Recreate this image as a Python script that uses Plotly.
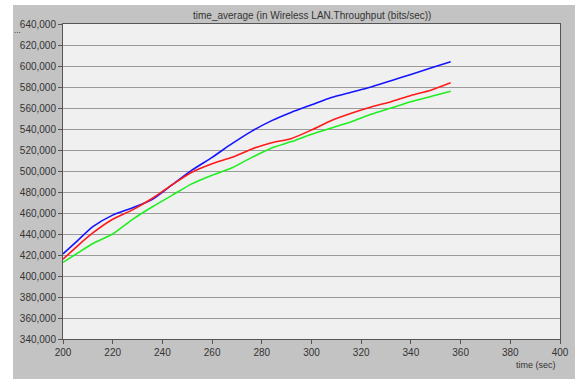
import plotly.graph_objects as go

time_sec = [200, 206, 212, 220, 228, 236, 244, 252, 260, 268, 276, 284, 292, 300, 308, 316, 324, 332, 340, 348, 356]
blue_series = [421000, 434000, 447000, 458000, 465000, 473000, 487000, 501000, 513000, 526000, 538000, 548000,
               556000, 563000, 570000, 575000, 580000, 586000, 592000, 598000, 604000]
red_series = [416000, 429000, 441000, 454000, 463000, 474000, 487000, 499000, 507000, 513000, 521000, 527000,
              531000, 539000, 548000, 555000, 561000, 566000, 572000, 577000, 584000]
green_series = [413000, 422000, 431000, 440000, 454000, 466000, 477000, 488000, 496000, 503000, 513000, 522000,
                528000, 535000, 541000, 547000, 554000, 560000, 566000, 571000, 576000]

x_ticks = list(range(200, 401, 20))
y_ticks = list(range(340000, 640001, 20000))

fig = go.Figure()
for ys, col in [(blue_series, "#1414ff"), (red_series, "#ff1a1a"), (green_series, "#1fee1f")]:
    fig.add_trace(go.Scatter(x=time_sec, y=ys, mode="lines", line=dict(color=col, width=1.6, shape="spline", smoothing=0.6),
                             showlegend=False, hoverinfo="skip"))

L, R, T, B = 63, 15, 24, 40
W, H = 575, 379
pw, ph = W - L - R, H - T - B

fig.add_shape(type="rect", xref="paper", yref="paper", layer="below",
              x0=(13 - L) / pw, x1=(W - L) / pw, y0=-(H - (H - B)) / ph - 0.01, y1=((H - B) - 5) / ph,
              fillcolor="#c3c3c3", line=dict(width=0))
fig.add_shape(type="rect", xref="paper", yref="paper", layer="below",
              x0=0, x1=1, y0=0, y1=1, fillcolor="#f0f0f0", line=dict(width=0))

axis_font = dict(family="Liberation Sans, Arial, sans-serif", size=10, color="#333333")
fig.update_xaxes(range=[200, 400], tickvals=x_ticks, ticktext=[str(v) for v in x_ticks],
                 showgrid=False, zeroline=False, showline=True, linecolor="#555555", linewidth=1,
                 mirror=True, ticks="outside", ticklen=4, tickcolor="#555555", tickfont=axis_font,
                 ticklabeloverflow="allow", automargin=False)
fig.update_yaxes(range=[340000, 640000], tickvals=y_ticks, ticktext=[f"{v:,}" for v in y_ticks],
                 showgrid=True, gridcolor="#9a9a9a", gridwidth=1, zeroline=False,
                 showline=True, linecolor="#555555", linewidth=1, mirror=True,
                 ticks="outside", ticklen=4, tickcolor="#555555", tickfont=axis_font, automargin=False)

fig.add_annotation(text="time_average (in Wireless LAN.Throughput (bits/sec))", xref="paper", yref="paper",
                   x=0.5, y=1.0, yshift=9, showarrow=False, xanchor="center", yanchor="middle",
                   font=dict(family="Liberation Sans, Arial, sans-serif", size=10, color="#333333"))
fig.add_annotation(text="time (sec)", xref="paper", yref="paper", x=(558 - L) / pw, y=-(365 - (H - B)) / ph,
                   showarrow=False, xanchor="right", yanchor="middle",
                   font=dict(family="Liberation Sans, Arial, sans-serif", size=9, color="#333333"))
fig.add_annotation(text="...", xref="paper", yref="paper", x=(17 - L) / pw, y=((H - B) - 31) / ph,
                   showarrow=False, xanchor="center", yanchor="middle",
                   font=dict(family="DejaVu Sans, sans-serif", size=7, color="#222222"))
fig.add_annotation(text="...", xref="paper", yref="paper", x=(568 - L) / pw, y=((H - B) + 3) / ph,
                   showarrow=False, xanchor="center", yanchor="middle",
                   font=dict(family="DejaVu Sans, sans-serif", size=7, color="#222222"))

fig.update_layout(width=W, height=H, autosize=False, margin=dict(l=L, r=R, t=T, b=B, pad=0),
                  paper_bgcolor="white", plot_bgcolor="#f0f0f0")

fig.write_html("out.html", config={"displayModeBar": False, "responsive": False},
               post_script=("document.body.style.margin='0';document.body.style.overflow='hidden';"
                            "var gd=document.getElementById('{plot_id}');"
                            "Plotly.relayout(gd,{width:575,height:379,autosize:false});"))
